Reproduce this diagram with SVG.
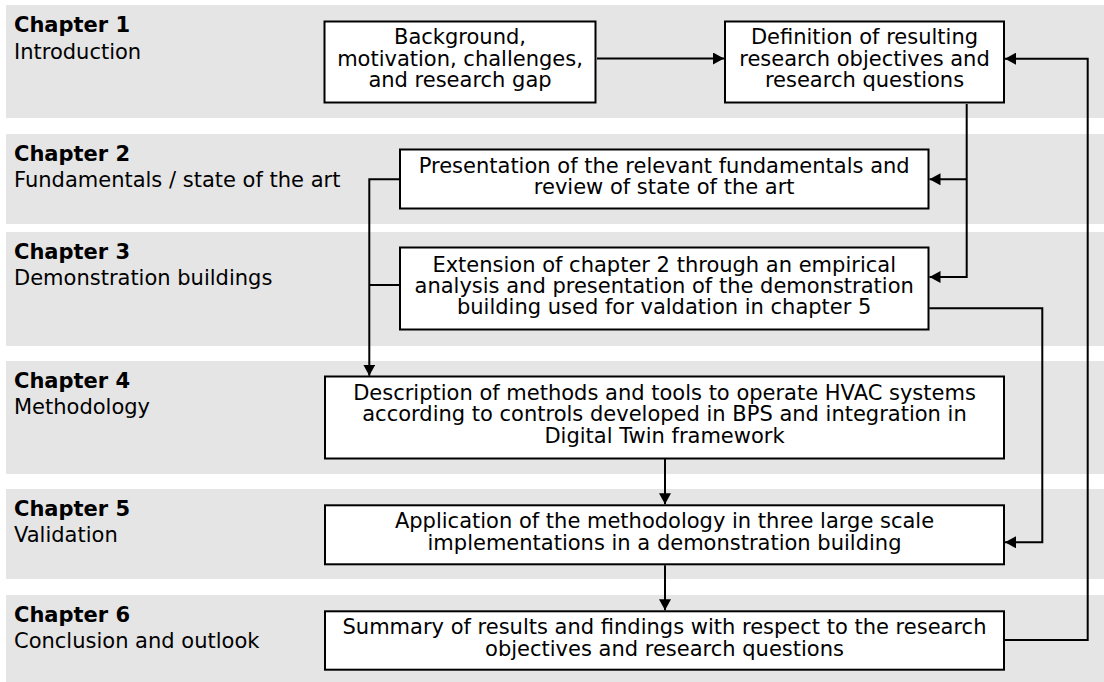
<svg xmlns="http://www.w3.org/2000/svg" width="1104" height="682" viewBox="0 0 1104 682">
  <style>
    .band { fill: #e5e5e5; }
    .box { fill: #ffffff; stroke: #000000; stroke-width: 2; }
    .txt { font-family: "DejaVu Sans", "Noto Sans", sans-serif; font-size: 21px; fill: #000000; }
    .ctr { text-anchor: middle; }
    .head { font-weight: bold; }
    .conn { fill: none; stroke: #000000; stroke-width: 2; }
  </style>
  <defs>
    <marker id="arrow" markerUnits="userSpaceOnUse" markerWidth="12" markerHeight="12" refX="11" refY="6" orient="auto">
      <path d="M0,0 L11,6 L0,12 Z" fill="#000000"/>
    </marker>
  </defs>

  <!-- chapter bands -->
  <g id="bands">
    <rect class="band" x="6" y="5" width="1098" height="113"/>
    <rect class="band" x="6" y="134" width="1098" height="90"/>
    <rect class="band" x="6" y="232" width="1098" height="114"/>
    <rect class="band" x="6" y="361" width="1098" height="113"/>
    <rect class="band" x="6" y="489" width="1098" height="90"/>
    <rect class="band" x="6" y="595" width="1098" height="87"/>
  </g>

  <!-- chapter labels -->
  <g id="labels" class="txt">
    <text class="head" x="14" y="32">Chapter 1</text>
    <text x="14" y="59">Introduction</text>
    <text class="head" x="14" y="160.5">Chapter 2</text>
    <text x="14" y="187">Fundamentals / state of the art</text>
    <text class="head" x="14" y="258.5">Chapter 3</text>
    <text x="14" y="285">Demonstration buildings</text>
    <text class="head" x="14" y="387.5">Chapter 4</text>
    <text x="14" y="414">Methodology</text>
    <text class="head" x="14" y="515.5">Chapter 5</text>
    <text x="14" y="542">Validation</text>
    <text class="head" x="14" y="621.5">Chapter 6</text>
    <text x="14" y="648">Conclusion and outlook</text>
  </g>

  <!-- connectors -->
  <g id="connectors">
    <path class="conn" d="M597,58.5 H724" marker-end="url(#arrow)"/>
    <path class="conn" d="M966.7,104 V277 H929.5" marker-end="url(#arrow)"/>
    <path class="conn" d="M966.7,179.3 H929.5" marker-end="url(#arrow)"/>
    <path class="conn" d="M1005,640 H1087.7 V58.7 H1005" marker-end="url(#arrow)"/>
    <path class="conn" d="M929.3,308.3 H1042.3 V542.3 H1005" marker-end="url(#arrow)"/>
    <path class="conn" d="M399,179.3 H369.3 V375.7" marker-end="url(#arrow)"/>
    <path class="conn" d="M399,285 H369.3"/>
    <path class="conn" d="M665,459 V504.3" marker-end="url(#arrow)"/>
    <path class="conn" d="M665,565.3 V610.3" marker-end="url(#arrow)"/>
  </g>

  <!-- nodes -->
  <g id="background">
    <rect class="box" x="324.5" y="21.5" width="271" height="81"/>
    <text class="txt ctr" x="460" y="44">Background,</text>
    <text class="txt ctr" x="460" y="65.5">motivation, challenges,</text>
    <text class="txt ctr" x="460" y="86.8">and research gap</text>
  </g>
  <g id="objectives">
    <rect class="box" x="725" y="21.5" width="279" height="81"/>
    <text class="txt ctr" x="864.5" y="44">Definition of resulting</text>
    <text class="txt ctr" x="864.5" y="65.5">research objectives and</text>
    <text class="txt ctr" x="864.5" y="86.8">research questions</text>
  </g>
  <g id="fundamentals">
    <rect class="box" x="400" y="149.5" width="528.5" height="59"/>
    <text class="txt ctr" x="664.2" y="172.7">Presentation of the relevant fundamentals and</text>
    <text class="txt ctr" x="664.2" y="193.7">review of state of the art</text>
  </g>
  <g id="demonstration">
    <rect class="box" x="400" y="247.5" width="528.5" height="82"/>
    <text class="txt ctr" x="664.2" y="271.7">Extension of chapter 2 through an empirical</text>
    <text class="txt ctr" x="664.2" y="292.9">analysis and presentation of the demonstration</text>
    <text class="txt ctr" x="664.2" y="314.1">building used for valdation in chapter 5</text>
  </g>
  <g id="methodology">
    <rect class="box" x="325" y="376.5" width="679" height="82"/>
    <text class="txt ctr" x="664.5" y="400">Description of methods and tools to operate HVAC systems</text>
    <text class="txt ctr" x="664.5" y="421.4">according to controls developed in BPS and integration in</text>
    <text class="txt ctr" x="664.5" y="442.7">Digital Twin framework</text>
  </g>
  <g id="validation">
    <rect class="box" x="325" y="505.3" width="679" height="59"/>
    <text class="txt ctr" x="664.5" y="528.3">Application of the methodology in three large scale</text>
    <text class="txt ctr" x="664.5" y="549.6">implementations in a demonstration building</text>
  </g>
  <g id="conclusion">
    <rect class="box" x="325" y="611.3" width="679" height="58.4"/>
    <text class="txt ctr" x="664.5" y="634.3">Summary of results and findings with respect to the research</text>
    <text class="txt ctr" x="664.5" y="655.5">objectives and research questions</text>
  </g>
</svg>
